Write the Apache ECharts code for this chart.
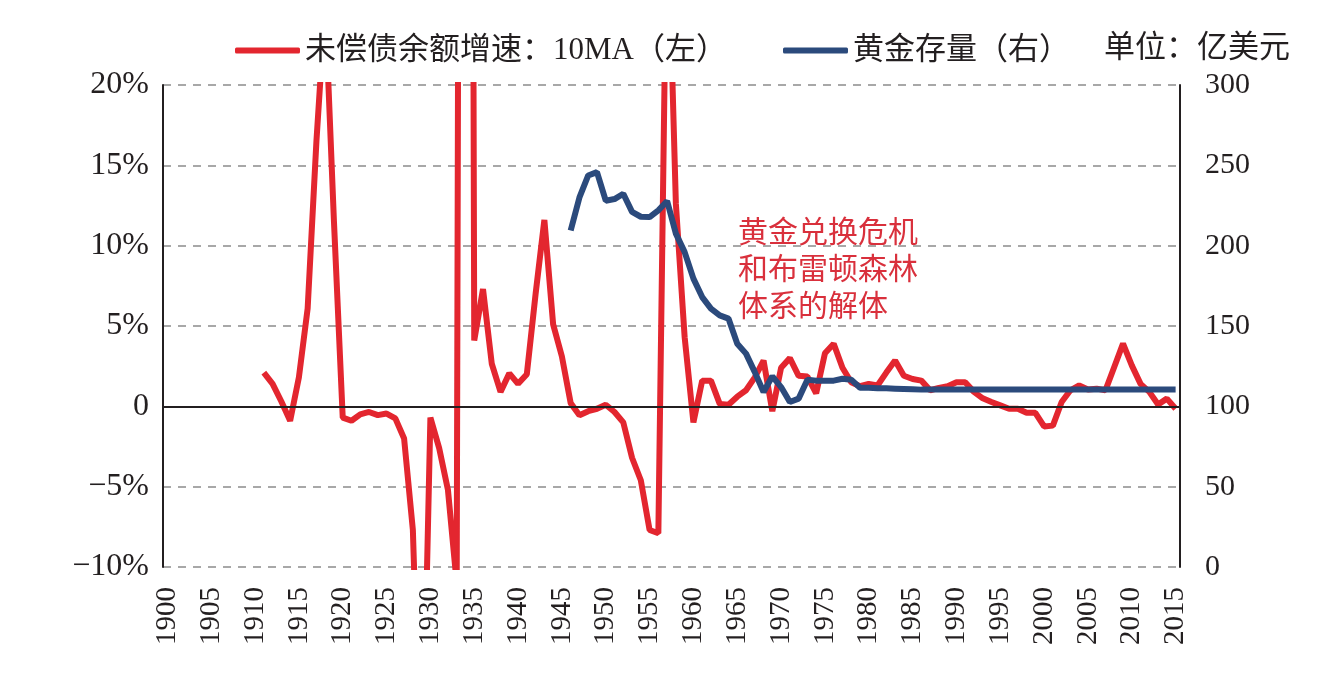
<!DOCTYPE html>
<html>
<head>
<meta charset="utf-8">
<script src="https://cdn.jsdelivr.net/npm/echarts@6/dist/echarts.min.js"></script>
<style>
  html, body { margin: 0; padding: 0; background: #fff; }
  #chart { width: 1328px; height: 677px; }
</style>
</head>
<body>
<div id="chart"></div>
<script>
// 年份 1900-2015
const years = []
for (let y = 1900; y <= 2015; y++) years.push(String(y))

// 未偿债余额增速 10MA（%），1911 起，超出坐标范围的部分会被裁剪
const debtGrowth = [
  2.1, 1.4, 0.3, -0.9, 1.8, 6.1, 16.5, 25, 11.5, -0.7,        // 1911-1920
  -0.9, -0.5, -0.35, -0.55, -0.45, -0.75, -2.0, -7.7, -25, -0.7, // 1921-1930
  -2.6, -5.2, -11, 200, 4.1, 7.3, 2.65, 0.9, 2.05, 1.4,       // 1931-1940
  2.0, 7.0, 11.6, 5.1, 3.1, 0.2, -0.55, -0.3, -0.15, 0.1,     // 1941-1950
  -0.35, -1.0, -3.2, -4.6, -7.7, -7.9, 32, 12.6, 4.3, -1.0,   // 1951-1960
  1.6, 1.6, 0.15, 0.1, 0.6, 1.0, 1.8, 2.85, -0.3, 2.4,        // 1961-1970
  3.0, 1.9, 1.85, 0.8, 3.3, 3.9, 2.4, 1.5, 1.25, 1.4,         // 1971-1980
  1.3, 2.1, 2.85, 1.9, 1.7, 1.6, 1.0, 1.15, 1.25, 1.5,        // 1981-1990
  1.5, 0.9, 0.5, 0.27, 0.06, -0.15, -0.15, -0.4, -0.4, -1.25, // 1991-2000
  -1.2, 0.27, 1.0, 1.3, 1.05, 1.1, 1.0, 2.45, 3.9, 2.55,      // 2001-2010
  1.4, 0.9, 0.12, 0.48, -0.15                                 // 2011-2015
]
const debtStart = 1911

// 黄金存量（亿美元），1946 起
const goldStock = [
  209.5, 230, 243.7, 245.8, 228, 229, 232.3, 221, 218, 217.8, // 1946-1955
  222, 227.8, 207.5, 196, 179.5, 168, 160.8, 156.6, 154.6, 139, // 1956-1965
  132.8, 121.3, 108.9, 118.7, 112, 102.7, 104.8, 116.6, 116, 116, // 1966-1975
  116, 117.2, 116.6, 111.6, 111.5, 111.3, 111.2, 111, 110.8, 110.6, // 1976-1985
  110.4, 110.4, 110.4, 110.4, 110.4, 110.4, 110.4, 110.4, 110.4, 110.4, // 1986-1995
  110.4, 110.4, 110.4, 110.4, 110.4, 110.4, 110.4, 110.4, 110.4, 110.4, // 1996-2005
  110.4, 110.4, 110.4, 110.4, 110.4, 110.4, 110.4, 110.4, 110.4, 110.4  // 2006-2015
]
const goldStart = 1946

const leftTicks = { min: -10, max: 20, interval: 5 }
const rightTicks = { min: 0, max: 300, interval: 50 }

function alignToYears(values, start) {
  return years.map(y => {
    const i = Number(y) - start
    return i >= 0 && i < values.length ? values[i] : null
  })
}

const RED = '#e3262f'
const BLUE = '#2b4a7c'
const TEXT = '#231f20'
const SERIF = '"Liberation Serif", "Noto Sans CJK SC", serif'

const chart = echarts.init(document.getElementById('chart'))
chart.setOption({
  animation: false,
  backgroundColor: '#fff',
  legend: [{
    data: ['未偿债余额增速：10MA（左）'],
    left: 230,
    top: 30,
    icon: 'roundRect',
    itemWidth: 65,
    itemHeight: 6,
    itemGap: 8,
    textStyle: { fontSize: 31, color: TEXT, fontFamily: SERIF }
  }, {
    data: ['黄金存量（右）'],
    left: 778,
    top: 30,
    icon: 'roundRect',
    itemWidth: 65,
    itemHeight: 6,
    textStyle: { fontSize: 31, color: TEXT, fontFamily: SERIF }
  }],
  graphic: [{
    type: 'text',
    left: 1104,
    top: 33,
    style: { text: '单位：亿美元', fontSize: 31, fontFamily: SERIF, fill: TEXT }
  }, {
    type: 'text',
    left: 738,
    top: 212,
    style: {
      text: '黄金兑换危机\n和布雷顿森林\n体系的解体',
      fontSize: 30,
      lineHeight: 37,
      fontFamily: '"Noto Sans CJK SC", sans-serif',
      fill: '#d9303c'
    }
  }],
  grid: { left: 163, right: 148, top: 85, bottom: 110 },
  xAxis: {
    type: 'category',
    data: years,
    axisLine: { show: false },
    axisTick: { show: false },
    axisLabel: {
      interval: 4,
      rotate: 90,
      margin: 20,
      fontSize: 29,
      color: TEXT,
      fontFamily: SERIF
    }
  },
  yAxis: [{
    type: 'value',
    min: leftTicks.min,
    max: leftTicks.max,
    interval: leftTicks.interval,
    axisLine: { show: true, lineStyle: { color: TEXT, width: 2 } },
    axisTick: { show: false },
    axisLabel: {
      margin: 14,
      fontSize: 32,
      color: TEXT,
      fontFamily: SERIF,
      formatter: v => v === 0 ? '0' : (v < 0 ? '\u2212' + (-v) + '%' : v + '%')
    },
    splitLine: { show: true, lineStyle: { color: '#8c8c8c', width: 1.5, type: [8, 7] } }
  }, {
    type: 'value',
    min: rightTicks.min,
    max: rightTicks.max,
    interval: rightTicks.interval,
    axisLine: { show: true, lineStyle: { color: TEXT, width: 2 } },
    axisTick: { show: false },
    axisLabel: { margin: 25, fontSize: 30, color: TEXT, fontFamily: SERIF },
    splitLine: { show: false }
  }],
  series: [{
    name: '未偿债余额增速：10MA（左）',
    type: 'line',
    yAxisIndex: 0,
    data: alignToYears(debtGrowth, debtStart),
    showSymbol: false,
    symbol: 'none',
    clip: true,
    lineStyle: { color: RED, width: 6 },
    itemStyle: { color: RED },
    markLine: {
      silent: true,
      symbol: ['none', 'none'],
      label: { show: false },
      lineStyle: { color: TEXT, width: 2, type: 'solid' },
      data: [{ yAxis: 0 }]
    }
  }, {
    name: '黄金存量（右）',
    type: 'line',
    yAxisIndex: 1,
    data: alignToYears(goldStock, goldStart),
    showSymbol: false,
    symbol: 'none',
    clip: true,
    lineStyle: { color: BLUE, width: 6 },
    itemStyle: { color: BLUE }
  }]
})
</script>
</body>
</html>
